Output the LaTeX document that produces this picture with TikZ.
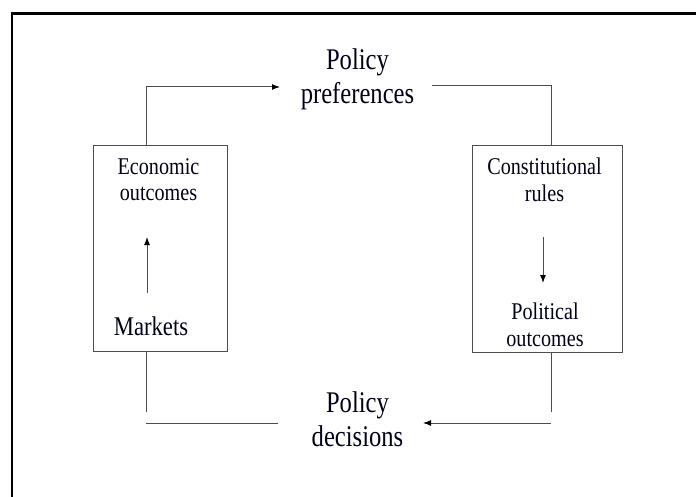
\documentclass[tikz,border=0pt]{standalone}
\usepackage{fontspec}
\usetikzlibrary{arrows.meta}
\newfontfamily\boxfont[FakeStretch=0.84]{Liberation Serif}
\newfontfamily\polfont[FakeStretch=0.82]{Liberation Serif}
\tikzset{
  frameline/.style={line width=2.6pt, black},
  boxline/.style={draw=black!70, line width=1pt},
  conn/.style={draw=black!70, line width=1pt},
  arr/.style={conn, -{Latex[length=8pt,width=6pt,color=black]}},
  boxtext/.style={font=\boxfont\fontsize{24}{27}\selectfont, align=center, inner sep=0pt, text=black!90!blue},
  bigtext/.style={font=\boxfont\fontsize{27}{30}\selectfont, align=center, inner sep=0pt, text=black!90!blue},
  poltext/.style={font=\polfont\fontsize{30}{34}\selectfont, align=center, inner sep=0pt, text=black!90!blue},
}
\begin{document}
\begin{tikzpicture}[x=1pt, y=-1pt]
\useasboundingbox (0,0) rectangle (696,497);
% outer frame, running off the right and bottom edges
\draw[frameline] (12,520) -- (12,13.5) -- (720,13.5);

% the two boxes
\node[boxline, minimum width=134pt, minimum height=205pt, inner sep=0pt] (econ) at (160,248.5) {};
\node[boxline, minimum width=150pt, minimum height=206pt, inner sep=0pt] (const) at (547,249) {};

% texts inside the boxes (base = baseline of the last line)
\node[boxtext, anchor=base] (econtxt) at (158.5,201) {Economic\\outcomes};
\node[bigtext, anchor=base] (markets) at (151,335) {Markets};
\node[boxtext, anchor=base] (consttxt) at (544.5,202) {Constitutional\\rules};
\node[boxtext, anchor=base] (poltxt) at (545,346) {Political\\outcomes};

% policy labels
\node[poltext, anchor=base] (prefs) at (357.5,104) {Policy\\preferences};
\node[poltext, anchor=base] (decis) at (357.5,446) {Policy\\decisions};

% connector end points
\coordinate (prefL) at (280,87);
\coordinate (prefR) at (432,86);
\coordinate (decL) at (278,423);
\coordinate (decR) at (423,423);
\coordinate (econTop) at (146,146);
\coordinate (econBot) at (146,351);
\coordinate (constTop) at (551,146);
\coordinate (constBot) at (551,352);
\coordinate (econDrop) at (146,412);
\coordinate (constDrop) at (551,412);
\coordinate (econFoot) at (146,423);
\coordinate (constFoot) at (551,423);

% outer loop
\draw[arr] (econTop) |- (prefL);
\draw[conn] (prefR) -| (constTop);
\draw[conn] (constBot) -- (constDrop);
\draw[arr] (constFoot) -- (decR);
\draw[conn] (decL) -- (econFoot);
\draw[conn] (econBot) -- (econDrop);

% arrows inside the boxes
\coordinate (mkUp) at (147,293);
\coordinate (ecDown) at (147,237);
\coordinate (crDown) at (543,237);
\coordinate (poUp) at (543,283);
\draw[arr] (mkUp) -- (ecDown);
\draw[arr] (crDown) -- (poUp);
\end{tikzpicture}
\end{document}
